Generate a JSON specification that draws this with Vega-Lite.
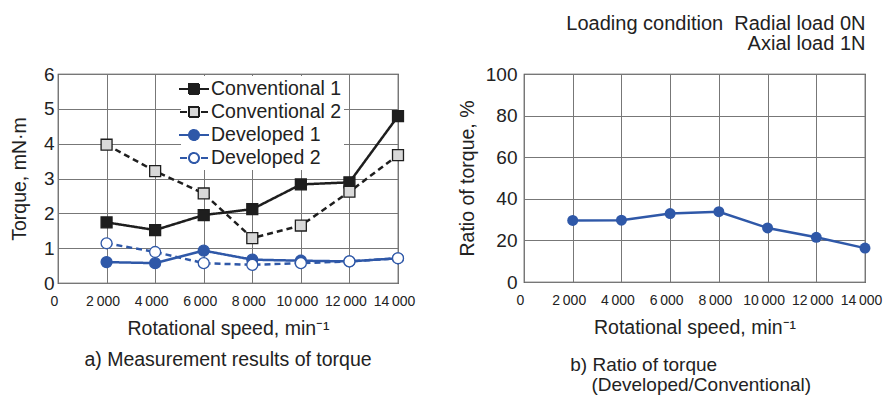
{
  "$schema": "https://vega.github.io/schema/vega-lite/v6.json",
  "background": "white",
  "padding": {"left": 8, "top": 14, "right": 0, "bottom": 0},
  "config": {
    "font": "Liberation Sans",
    "view": {"stroke": "#333333", "strokeWidth": 1.2},
    "axis": {
      "labelFont": "Liberation Sans",
      "labelFontSize": 19,
      "labelColor": "#222222",
      "titleFont": "Liberation Sans",
      "titleFontSize": 18,
      "titleFontWeight": "normal",
      "titleColor": "#222222",
      "domain": false,
      "ticks": false,
      "labelOverlap": false,
      "labelFlush": false,
      "gridColor": "#777777",
      "gridOpacity": 1,
      "gridWidth": 1
    },
    "title": {"font": "Liberation Sans", "fontWeight": "normal", "color": "#222222", "fontSize": 18}
  },
  "title": {
    "text": ["Loading condition\u00a0\u00a0Radial load 0N", "Axial load 1N"],
    "anchor": "end",
    "align": "right",
    "fontSize": 20,
    "lineHeight": 20,
    "offset": 10,
    "dx": -17
  },
  "spacing": 40,
  "hconcat": [
    {
      "width": 340,
      "height": 209,
      "title": {"text": "a) Measurement results of torque", "orient": "bottom", "anchor": "middle", "fontSize": 19.5, "offset": 13},
      "data": {
        "values": [
          {"series": "Conventional 1", "speed": 2000, "torque": 1.74},
          {"series": "Conventional 1", "speed": 4000, "torque": 1.52},
          {"series": "Conventional 1", "speed": 6000, "torque": 1.95},
          {"series": "Conventional 1", "speed": 8000, "torque": 2.12},
          {"series": "Conventional 1", "speed": 10000, "torque": 2.83},
          {"series": "Conventional 1", "speed": 12000, "torque": 2.89},
          {"series": "Conventional 1", "speed": 14000, "torque": 4.79},
          {"series": "Conventional 2", "speed": 2000, "torque": 3.97},
          {"series": "Conventional 2", "speed": 4000, "torque": 3.21},
          {"series": "Conventional 2", "speed": 6000, "torque": 2.57},
          {"series": "Conventional 2", "speed": 8000, "torque": 1.29},
          {"series": "Conventional 2", "speed": 10000, "torque": 1.65},
          {"series": "Conventional 2", "speed": 12000, "torque": 2.62},
          {"series": "Conventional 2", "speed": 14000, "torque": 3.67},
          {"series": "Developed 1", "speed": 2000, "torque": 0.6},
          {"series": "Developed 1", "speed": 4000, "torque": 0.57},
          {"series": "Developed 1", "speed": 6000, "torque": 0.93},
          {"series": "Developed 1", "speed": 8000, "torque": 0.67},
          {"series": "Developed 1", "speed": 10000, "torque": 0.64},
          {"series": "Developed 1", "speed": 12000, "torque": 0.62},
          {"series": "Developed 1", "speed": 14000, "torque": 0.71},
          {"series": "Developed 2", "speed": 2000, "torque": 1.14},
          {"series": "Developed 2", "speed": 4000, "torque": 0.89},
          {"series": "Developed 2", "speed": 6000, "torque": 0.57},
          {"series": "Developed 2", "speed": 8000, "torque": 0.52},
          {"series": "Developed 2", "speed": 10000, "torque": 0.57},
          {"series": "Developed 2", "speed": 12000, "torque": 0.62},
          {"series": "Developed 2", "speed": 14000, "torque": 0.71}
        ]
      },
      "encoding": {
        "x": {
          "field": "speed", "type": "quantitative",
          "scale": {"domain": [0, 14000], "nice": false},
          "axis": {
            "values": [0, 2000, 4000, 6000, 8000, 10000, 12000, 14000],
            "labelExpr": "replace(format(datum.value, ','), ',', '\u2009')",
            "labelFontSize": 14,
            "labelOffset": -4,
            "labelPadding": 11, "titlePadding": 11,
            "title": "Rotational speed, min\u207b\u00b9", "titleFontSize": 19.5
          }
        },
        "y": {
          "field": "torque", "type": "quantitative",
          "scale": {"domain": [0, 6], "nice": false},
          "axis": {"values": [0, 1, 2, 3, 4, 5, 6], "labelPadding": 4, "titlePadding": 14, "title": "Torque, mN\u00b7m", "titleFontSize": 19.5}
        }
      },
      "layer": [
        {
          "mark": {"type": "line", "strokeWidth": 2.5},
          "encoding": {
            "color": {
              "field": "series", "type": "nominal",
              "scale": {"domain": ["Conventional 1", "Conventional 2", "Developed 1", "Developed 2"], "range": ["#1e1e1e", "#1e1e1e", "#2f58a8", "#2f58a8"]},
              "legend": {
                "title": null,
                "orient": "none",
                "legendX": 123,
                "legendY": 2,
                "padding": 2,
                "fillColor": "white",
                "symbolSize": 400,
                "symbolStrokeWidth": 2,
                "labelFont": "Liberation Sans",
                "labelFontSize": 19.5,
                "labelColor": "#222222",
                "labelOffset": 6,
                "rowPadding": 2,
                "encode": {
                  "symbols": {
                    "update": {
                      "shape": {"signal": "datum.value === 'Conventional 1' ? 'M-1.5,0H1.5M-0.5,-0.5H0.5V0.5H-0.5Z' : datum.value === 'Conventional 2' ? 'M-1.4,0H-0.7M0.7,0H1.4M-0.5,-0.5H0.5V0.5H-0.5Z' : datum.value === 'Developed 1' ? 'M-1.5,0H1.5M0.5,0A0.5,0.5,0,1,1,-0.5,0A0.5,0.5,0,1,1,0.5,0Z' : 'M-1.4,0H-0.7M0.7,0H1.4M0.5,0A0.5,0.5,0,1,1,-0.5,0A0.5,0.5,0,1,1,0.5,0Z'"},
                      "fill": {"signal": "datum.value === 'Conventional 1' ? '#1e1e1e' : datum.value === 'Conventional 2' ? '#d9d9d9' : datum.value === 'Developed 1' ? '#2f58a8' : '#ffffff'"},
                      "strokeWidth": {"value": 2},
                      "strokeDash": {"value": [1, 0]},
                      "opacity": {"value": 1}
                    }
                  }
                }
              }
            },
            "strokeDash": {
              "field": "series", "type": "nominal", "legend": null,
              "scale": {"domain": ["Developed 2", "Developed 1", "Conventional 2", "Conventional 1"], "range": [[6, 4], [1, 0], [6, 4], [1, 0]]}
            }
          }
        },
        {
          "mark": {"type": "point", "filled": true, "size": 120, "strokeWidth": 1.3, "opacity": 1},
          "encoding": {
            "shape": {
              "field": "series", "type": "nominal", "legend": null,
              "scale": {"domain": ["Developed 2", "Developed 1", "Conventional 2", "Conventional 1"], "range": ["circle", "circle", "square", "square"]}
            },
            "fill": {
              "field": "series", "type": "nominal", "legend": null,
              "scale": {"domain": ["Developed 2", "Developed 1", "Conventional 2", "Conventional 1"], "range": ["#ffffff", "#2f58a8", "#d9d9d9", "#1e1e1e"]}
            },
            "stroke": {
              "field": "series", "type": "nominal", "legend": null,
              "scale": {"domain": ["Developed 2", "Developed 1", "Conventional 2", "Conventional 1"], "range": ["#2f58a8", "#2f58a8", "#1e1e1e", "#1e1e1e"]}
            }
          }
        }
      ]
    },
    {
      "width": 341,
      "height": 208,
      "title": {"text": ["b) Ratio of torque", "\u200b\u00a0\u00a0\u00a0\u00a0(Developed/Conventional)"], "orient": "bottom", "anchor": "start", "align": "left", "dx": 113, "fontSize": 19, "lineHeight": 20, "offset": 19},
      "data": {
        "values": [
          {"speed": 2000, "ratio": 29.6},
          {"speed": 4000, "ratio": 29.7},
          {"speed": 6000, "ratio": 32.9},
          {"speed": 8000, "ratio": 33.8},
          {"speed": 10000, "ratio": 26.0},
          {"speed": 12000, "ratio": 21.5},
          {"speed": 14000, "ratio": 16.3}
        ]
      },
      "encoding": {
        "x": {
          "field": "speed", "type": "quantitative",
          "scale": {"domain": [0, 14000], "nice": false},
          "axis": {
            "values": [0, 2000, 4000, 6000, 8000, 10000, 12000, 14000],
            "labelExpr": "replace(format(datum.value, ','), ',', '\u2009')",
            "labelFontSize": 14,
            "labelOffset": -4,
            "labelPadding": 11, "titlePadding": 11,
            "title": "Rotational speed, min\u207b\u00b9", "titleFontSize": 19.5
          }
        },
        "y": {
          "field": "ratio", "type": "quantitative",
          "scale": {"domain": [0, 100], "nice": false},
          "axis": {"values": [0, 20, 40, 60, 80, 100], "labelPadding": 7, "titlePadding": 8, "title": "Ratio of torque, %", "titleFontSize": 19.5}
        }
      },
      "layer": [
        {"mark": {"type": "line", "strokeWidth": 2.5, "color": "#2f58a8"}, "encoding": {}},
        {"mark": {"type": "point", "filled": true, "size": 120, "opacity": 1, "color": "#2f58a8"}, "encoding": {}}
      ]
    }
  ]
}
